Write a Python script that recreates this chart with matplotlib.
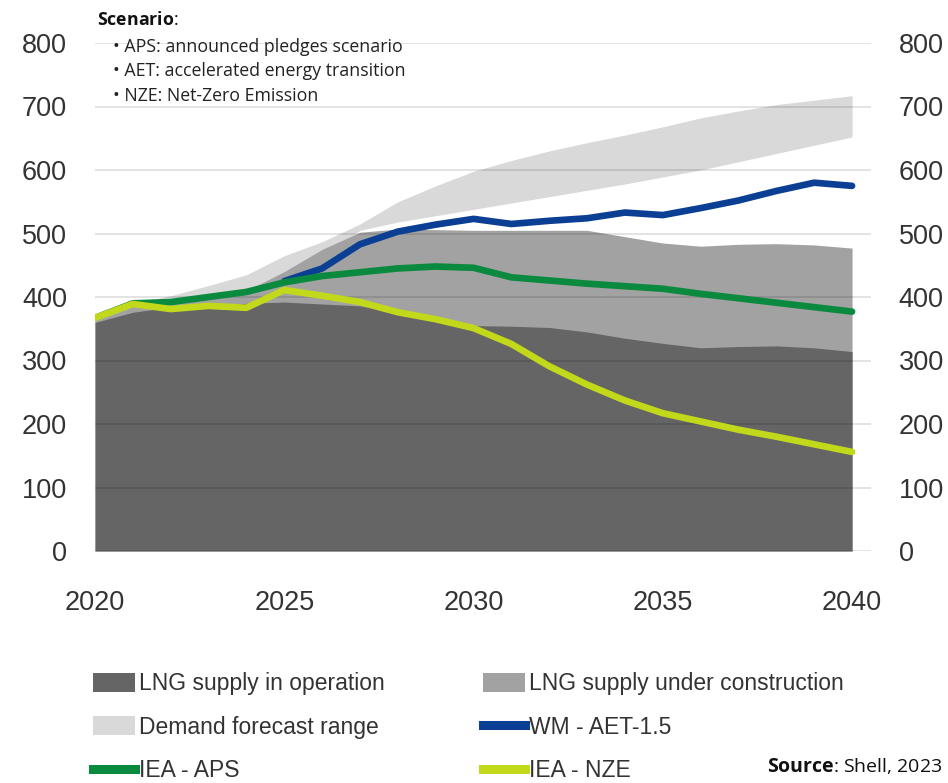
import matplotlib
matplotlib.use("Agg")
import matplotlib.pyplot as plt
from matplotlib.patches import Patch
from matplotlib.lines import Line2D
from matplotlib import font_manager

years = list(range(2020, 2041))
supply_operation = [360, 376, 384, 388, 390, 392, 389, 386, 376, 366, 355, 354, 352, 345, 335, 327, 320, 322, 323, 320, 314]
supply_construction_top = [362, 385, 391, 398, 410, 440, 475, 502, 507, 506, 505, 505, 505, 505, 495, 485, 480, 483, 484, 482, 477]
demand_low = [355, 378, 386, 394, 404, 430, 460, 505, 518, 528, 538, 548, 558, 568, 578, 589, 600, 613, 626, 639, 652]
demand_high = [365, 390, 402, 418, 435, 465, 487, 515, 550, 575, 598, 615, 630, 643, 655, 668, 682, 693, 703, 710, 717]
wm_years = list(range(2025, 2041))
wm_aet = [425, 445, 483, 503, 514, 523, 515, 520, 524, 533, 529, 540, 552, 567, 580, 575]
iea_aps = [367, 390, 392, 400, 408, 423, 433, 439, 445, 448, 446, 431, 426, 421, 417, 413, 405, 398, 391, 384, 377]
iea_nze = [367, 389, 381, 386, 383, 411, 402, 392, 376, 365, 351, 326, 291, 262, 237, 217, 204, 191, 180, 168, 156]

y_ticks = [0, 100, 200, 300, 400, 500, 600, 700, 800]
x_ticks = [2020, 2025, 2030, 2035, 2040]

legend_labels = ["LNG supply in operation", "LNG supply under construction",
                 "Demand forecast range", "WM - AET-1.5",
                 "IEA - APS", "IEA - NZE"]

c_dark = "#656565"
c_mid = "#a2a2a2"
c_light = "#d9d9d9"
c_blue = "#0b3f94"
c_green = "#0a8a3e"
c_yellow = "#c2d81a"

avail = {f.name for f in font_manager.fontManager.ttflist}
narrow = [f for f in ["Liberation Sans Narrow", "DejaVu Sans Condensed", "Liberation Sans"] if f in avail]

plt.rcParams["mathtext.fontset"] = "custom"
plt.rcParams["mathtext.bf"] = "Open Sans:bold"
plt.rcParams["mathtext.rm"] = "Open Sans"

fig = plt.figure(figsize=(9.48, 7.83), dpi=100)
ax = fig.add_axes([95/948, 232/783, 776/948, 508/783])

ax.fill_between(years, demand_low, demand_high, color=c_light, lw=0, zorder=1)
ax.fill_between(years, 0, supply_construction_top, color=c_mid, lw=0, zorder=2)
ax.fill_between(years, 0, supply_operation, color=c_dark, lw=0, zorder=3)

for v in y_ticks:
    ax.axhline(v, color="black", alpha=0.12, lw=1.3, zorder=4)

ax.plot(wm_years, wm_aet, color=c_blue, lw=4.8, solid_capstyle="round", solid_joinstyle="round", zorder=5)
ax.plot(years, iea_aps, color=c_green, lw=4.8, solid_capstyle="round", solid_joinstyle="round", zorder=6)
ax.plot(years, iea_nze, color=c_yellow, lw=4.8, solid_capstyle="round", solid_joinstyle="round", zorder=7)

ax.set_xlim(2020, 2040.5)
ax.set_ylim(0, 800)
for s in ax.spines.values():
    s.set_visible(False)
ax.set_yticks(y_ticks)
ax.set_xticks(x_ticks)
ax.tick_params(axis="y", length=0, pad=20, labelsize=19.5, labelcolor="#333333",
               labelleft=True, labelright=True)
ax.tick_params(axis="x", length=0, pad=28, labelsize=19.5, labelcolor="#333333")
ax.set_yticklabels([str(v) for v in y_ticks], family=narrow)
ax.set_xticklabels([str(v) for v in x_ticks], family=narrow)
for tick in ax.yaxis.get_major_ticks():
    tick.label2.set_family(narrow)

# scenario note
fig.text(97/948, 1 - 20/783, r"$\bf{Scenario}$:", fontsize=12.8, family="Open Sans",
         va="center", color="#111111")
notes = ["APS: announced pledges scenario", "AET: accelerated energy transition", "NZE: Net-Zero Emission"]
for i, t in enumerate(notes):
    fig.text(113/948, 1 - (47 + 24.5 * i)/783, "\u2022 " + t, fontsize=12.8, family="Open Sans",
             va="center", color="#222222")

h_op = Patch(facecolor=c_dark)
h_con = Patch(facecolor=c_mid)
h_dem = Patch(facecolor=c_light)
h_wm = Line2D([], [], color=c_blue, lw=6.5)
h_aps = Line2D([], [], color=c_green, lw=6.5)
h_nze = Line2D([], [], color=c_yellow, lw=6.5)
# ncol=2 fills column-wise: column 1 then column 2
handles = [h_op, h_dem, h_aps, h_con, h_wm, h_nze]
labels = [legend_labels[0], legend_labels[2], legend_labels[4],
          legend_labels[1], legend_labels[3], legend_labels[5]]
leg = fig.legend(handles, labels, ncol=2, loc="upper left",
                 bbox_to_anchor=(93/948, 1 - 672/783), frameon=False, borderaxespad=0,
                 prop={"family": narrow, "size": 16.5}, handlelength=1.83, handleheight=0.9,
                 handletextpad=0.17, columnspacing=4.28, labelspacing=0.9, borderpad=0)
for t in leg.get_texts():
    t.set_color("#333333")

fig.text(942/948, 1 - 766/783, r"$\bf{Source}$: Shell, 2023", fontsize=14, family="Open Sans",
         ha="right", va="center", color="#111111")

fig.savefig("out.png", dpi=100)
